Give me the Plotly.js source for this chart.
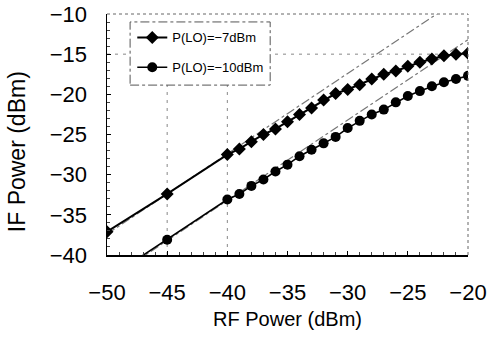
<!DOCTYPE html>
<html>
<head>
<meta charset="utf-8">
<script src="https://cdn.plot.ly/plotly-3.0.1.min.js"></script>
<style>html,body{margin:0;padding:0;background:#fff;}#chart{width:488px;height:337px;}</style>
</head>
<body>
<div id="chart"></div>
<script>
// RF input power (dBm)
const rfPower = [-50, -45, -40, -39, -38, -37, -36, -35, -34, -33, -32, -31, -30, -29, -28, -27, -26, -25, -24, -23, -22, -21, -20];
// IF output power (dBm), P(LO) = -7 dBm
const ifLO7 = [-37.1, -32.4, -27.5, -26.8, -25.9, -25.0, -24.3, -23.4, -22.5, -21.7, -20.7, -19.9, -19.4, -18.8, -18.1, -17.5, -17.1, -16.5, -16.0, -15.6, -15.2, -15.0, -14.9];
// IF output power (dBm), P(LO) = -10 dBm
const ifLO10 = [-43.0, -38.1, -33.1, -32.4, -31.4, -30.6, -29.6, -28.75, -27.7, -26.9, -26.1, -25.3, -24.2, -23.3, -22.5, -21.9, -21.0, -20.2, -19.6, -19.0, -18.5, -18.1, -17.7];
// Linear (slope 1) reference lines, endpoints
const fitX7 = [-50, -21.5];
const fitY7 = [-37.4, -8.9];
const fitX10 = [-47.6, -20];
const fitY10 = [-40.8, -13.2];
const seriesNames = ['P(LO)=\u22127dBm', 'P(LO)=\u221210dBm'];
const xTicks = [-50, -45, -40, -35, -30, -25, -20];
const yTicks = [-40, -35, -30, -25, -20, -15, -10];
const xTitle = 'RF Power (dBm)';
const yTitle = 'IF Power (dBm)';

const FONT = 'Liberation Sans, Arial, sans-serif';

const traces = [
  {x: fitX7, y: fitY7, mode: 'lines', line: {color: '#777', width: 1.2, dash: 'dashdot'}, showlegend: false, hoverinfo: 'skip'},
  {x: fitX10, y: fitY10, mode: 'lines', line: {color: '#777', width: 1.2, dash: 'dashdot'}, showlegend: false, hoverinfo: 'skip'},
  {x: rfPower, y: ifLO7, name: seriesNames[0], legendgroup: 'a', mode: 'lines+markers',
   line: {color: '#000', width: 2}, marker: {symbol: 'diamond', size: 10, color: '#000'}},
  {x: rfPower, y: ifLO10, name: seriesNames[1], legendgroup: 'b', mode: 'lines+markers',
   line: {color: '#000', width: 1.6}, marker: {symbol: 'circle', size: 10, color: '#000'}}
];

const gridStyle = {color: '#888', width: 1, dash: '3px,5px'};
const layout = {
  width: 488, height: 337,
  margin: {l: 107, r: 20, t: 14, b: 82},
  paper_bgcolor: '#fff', plot_bgcolor: '#fff',
  font: {family: FONT, color: '#000'},
  showlegend: true,
  legend: {x: 0.07, y: 0.965, xanchor: 'left', yanchor: 'top', bgcolor: 'rgba(0,0,0,0)',
           borderwidth: 0, font: {size: 13, family: FONT}, tracegroupgap: 10, itemwidth: 30},
  xaxis: {
    range: [-50, -20], tickvals: xTicks, showgrid: false, zeroline: false,
    showline: true, linecolor: '#000', linewidth: 1.5,
    ticks: 'inside', ticklen: 4, tickcolor: '#000',
    minor: {dtick: 1, ticks: 'inside', ticklen: 3, tickcolor: '#444'},
    tickfont: {size: 22, family: FONT}, ticklabelstandoff: 17,
    title: {text: xTitle, font: {size: 20, family: FONT}, standoff: 8}
  },
  yaxis: {
    range: [-40, -10], tickvals: yTicks, showgrid: false, zeroline: false,
    showline: true, linecolor: '#000', linewidth: 1.5,
    ticks: 'inside', ticklen: 4, tickcolor: '#000',
    minor: {dtick: 1, ticks: 'inside', ticklen: 3, tickcolor: '#444'},
    tickfont: {size: 22, family: FONT}, ticklabelstandoff: 14
  },
  annotations: [
    {text: yTitle, xref: 'paper', yref: 'paper', x: -0.249, y: 0.427, xanchor: 'center', yanchor: 'middle',
     textangle: -90, showarrow: false, font: {size: 23, family: FONT, color: '#000'}}
  ],
  shapes: [
    // dotted top and right frame
    {type: 'line', xref: 'paper', yref: 'paper', x0: 0, x1: 1, y0: 1, y1: 1, line: {color: '#666', width: 1, dash: 'dot'}},
    {type: 'line', xref: 'paper', yref: 'paper', x0: 1, x1: 1, y0: 0, y1: 1, line: {color: '#666', width: 1, dash: 'dot'}},
    // partial dashed grid
    {type: 'line', xref: 'paper', yref: 'y', x0: 0, x1: 1, y0: -15, y1: -15, line: gridStyle, layer: 'below'},
    {type: 'line', xref: 'x', yref: 'y', x0: -45, x1: -45, y0: -40, y1: -18.8, line: gridStyle, layer: 'below'},
    {type: 'line', xref: 'x', yref: 'y', x0: -40, x1: -40, y0: -40, y1: -18.8, line: gridStyle, layer: 'below'},
    // legend box
    {type: 'rect', xref: 'paper', yref: 'paper', x0: 0.064, x1: 0.452, y0: 0.705, y1: 0.967,
     fillcolor: '#fff', line: {color: '#555', width: 1, dash: 'dashdot'}, layer: 'above'}
  ]
};

Plotly.newPlot('chart', traces, layout, {staticPlot: true, displayModeBar: false});
</script>
</body>
</html>
